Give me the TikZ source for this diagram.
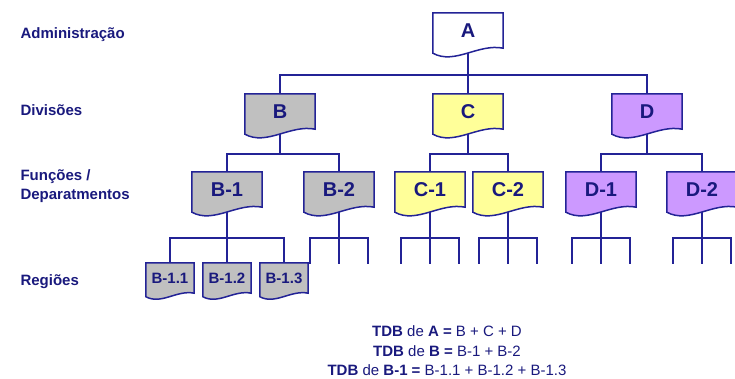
\documentclass[tikz,border=0pt]{standalone}
\usepackage{fontspec}
\setmainfont{Liberation Sans}
\usetikzlibrary{calc}

\definecolor{navy}{RGB}{25,25,125}
\definecolor{wirecol}{RGB}{35,35,150}
\definecolor{boxgray}{RGB}{192,192,192}
\definecolor{boxyellow}{RGB}{255,255,153}
\definecolor{boxpurple}{RGB}{204,153,255}

% connectors sit under the sheets, the sheets under the labels
\pgfdeclarelayer{wires}
\pgfdeclarelayer{paper}
\pgfsetlayers{wires,paper,main}

\tikzset{
  wire/.style={draw=wirecol, line width=1.5pt},
  doc/.style={minimum width=70pt, minimum height=35pt, inner sep=0pt,
    text=navy, font=\bfseries\fontsize{20}{24}\selectfont},
  smalldoc/.style={doc, minimum width=48pt, minimum height=30pt,
    font=\bfseries\fontsize{15}{18}\selectfont},
  level/.style={anchor=west, align=left, text=navy,
    font=\bfseries\fontsize{15}{19}\selectfont},
}

% document sheet with wavy lower edge: #1 node, #2 wave scale, #3 fill
\newcommand{\docsheet}[3]{%
  \draw[wire, fill=#3] (#1.north west) -- (#1.north east) -- (#1.south east)
    .. controls +({-25*#2},{5*#2}) and +({22*#2},{-12*#2})
    .. ($(#1.south west)+(0,{-5*#2})$) -- cycle;}

\begin{document}
\begin{tikzpicture}[x=1pt, y=1pt]
\useasboundingbox (0,0) rectangle (735,379);

% level names
\node[level] (admin) at (17,344) {Administração};
\node[level] (divs) at (17,269) {Divisões};
\node[level] (funcs) at (17,192.5) {Funções /\\Deparatmentos};
\node[level] (regs) at (17,97) {Regiões};

% the tree
\node[doc] (A) at (468,348.5) {A};
\node[doc] (B) at (280,267.5) {B};
\node[doc] (C) at (468,267.5) {C};
\node[doc] (D) at (647,267.5) {D};
\node[doc] (B1) at (227,189.5) {B-1};
\node[doc] (B2) at (339,189.5) {B-2};
\node[doc] (C1) at (430,189.5) {C-1};
\node[doc] (C2) at (508,189.5) {C-2};
\node[doc] (D1) at (601,189.5) {D-1};
\node[doc] (D2) at (702,189.5) {D-2};
\node[smalldoc] (B11) at (170,101) {B-1.1};
\node[smalldoc] (B12) at (227,101) {B-1.2};
\node[smalldoc] (B13) at (284,101) {B-1.3};

\begin{pgfonlayer}{paper}
  \foreach \n/\c in {A/white, B/boxgray, C/boxyellow, D/boxpurple,
      B1/boxgray, B2/boxgray, C1/boxyellow, C2/boxyellow,
      D1/boxpurple, D2/boxpurple}
    \docsheet{\n}{1}{\c};
  \foreach \n in {B11,B12,B13}
    \docsheet{\n}{0.7}{boxgray};
\end{pgfonlayer}

\begin{pgfonlayer}{wires}
  \coordinate (busA) at (468,304);
  \draw[wire] (A) -- (busA);
  \draw[wire] (B.north) |- (busA) -| (D.north);
  \draw[wire] (busA) -- (C.north);

  \foreach \p/\l/\r in {B/B1/B2, C/C1/C2, D/D1/D2} {
    \path (\p) ++(0,-42.5) coordinate (bus\p);
    \draw[wire] (\p) -- (bus\p);
    \draw[wire] (\l.north) |- (bus\p) -| (\r.north);
  }

  \path (B1) ++(0,-48.5) coordinate (busB1);
  \draw[wire] (B1) -- (B12.north);
  \draw[wire] (B11.north) |- (busB1) -| (B13.north);

  % open forks below the other departments
  \foreach \n in {B2,C1,C2,D1,D2} {
    \draw[wire] (\n) -- ++(0,-74.5);
    \draw[wire] (\n) ++(-29,-74.5) -- ++(0,26) -- ++(58,0) -- ++(0,-26);
  }
\end{pgfonlayer}

% sums
\node[align=center, text=navy, font=\fontsize{15}{19.5}\selectfont] (tdb) at (447,28)
  {\textbf{TDB} de \textbf{A} \textbf{=} B + C + D\\
   \textbf{TDB} de \textbf{B} \textbf{=} B-1 + B-2\\
   \textbf{TDB} de \textbf{B-1} \textbf{=} B-1.1 + B-1.2 + B-1.3};
\end{tikzpicture}
\end{document}
